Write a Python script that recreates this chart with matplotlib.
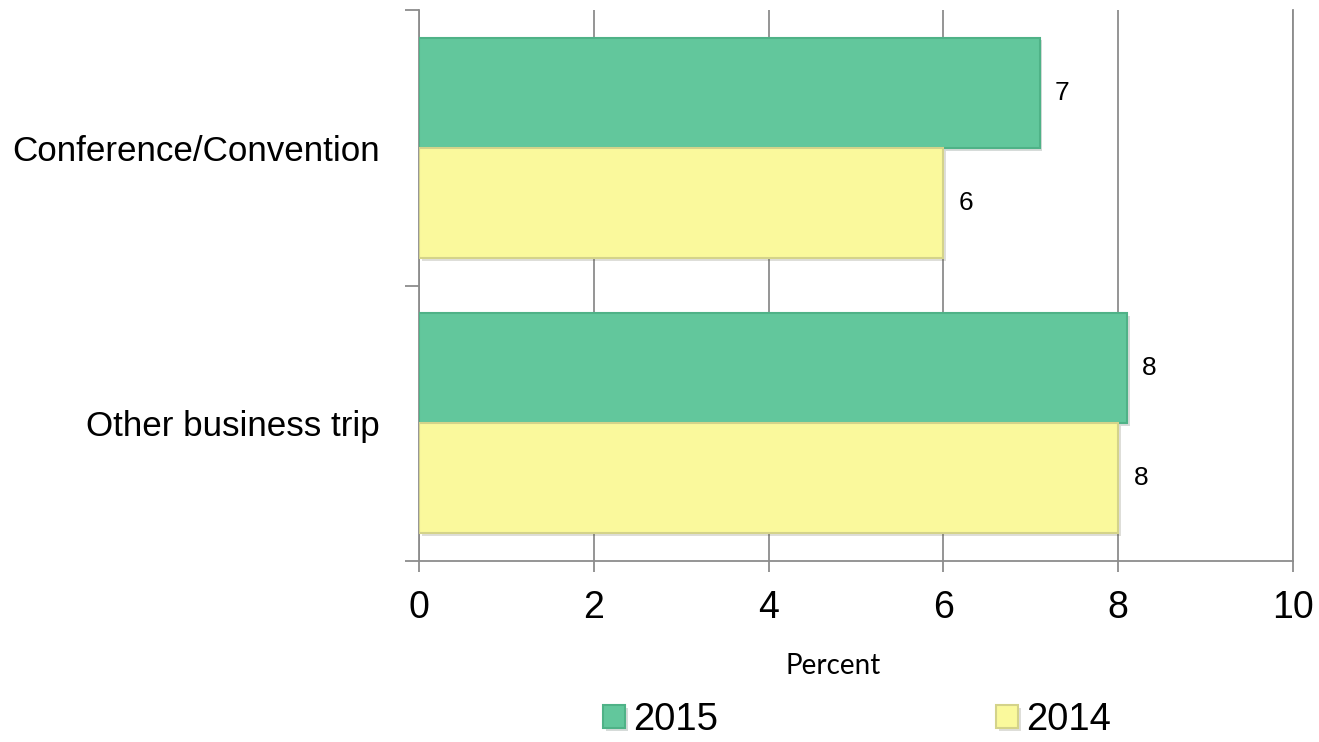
import matplotlib
matplotlib.use("Agg")
import matplotlib.pyplot as plt
import matplotlib.patheffects as pe
import numpy as np

categories = ["Conference/Convention", "Other business trip"]
values_2015 = [7.1, 8.1]
values_2014 = [6.0, 8.0]
series_names = ["2015", "2014"]
x_ticks = [0, 2, 4, 6, 8, 10]

plt.rcParams["font.family"] = ["Liberation Sans", "DejaVu Sans"]

green_fill, green_edge = "#62C79C", "#4FB287"
yellow_fill, yellow_edge = "#FAF99C", "#D4D38A"
axis_grey = "#8C8C8C"

fig = plt.figure(figsize=(13.19, 7.42), dpi=100)
ax = fig.add_axes([419 / 1319, 1 - 561 / 742, (1293 - 419) / 1319, (561 - 10) / 742])

# first category sits at the top
ypos = np.arange(len(categories))[::-1].astype(float)
bar_h = 0.4

shadow = [pe.SimplePatchShadow(offset=(2, -2), alpha=0.18), pe.Normal()]
b15 = ax.barh(ypos + bar_h / 2, values_2015, height=bar_h, color=green_fill,
              edgecolor=green_edge, linewidth=1.5, label=series_names[0], zorder=3)
b14 = ax.barh(ypos - bar_h / 2, values_2014, height=bar_h, color=yellow_fill,
              edgecolor=yellow_edge, linewidth=1.5, label=series_names[1], zorder=3)
for bars in (b15, b14):
    for p in bars:
        p.set_path_effects(shadow)

for bars, vals in ((b15, values_2015), (b14, values_2014)):
    for p, v in zip(bars, vals):
        ax.annotate(f"{v:.0f}", xy=(v, p.get_y() + p.get_height() / 2),
                    xytext=(11, 0), textcoords="offset points",
                    ha="left", va="center", fontsize=19, color="black")

ax.set_xlim(0, 10)
ax.set_ylim(-0.5, len(categories) - 0.5)
ax.set_xticks(x_ticks)
ax.set_xticklabels([str(t) for t in x_ticks])
ax.set_yticks(ypos)
ax.set_yticklabels(categories)
ax.set_yticks(np.arange(-0.5, len(categories), 1.0), minor=True)

ax.tick_params(axis="x", direction="out", length=8, width=1.3, color=axis_grey,
               labelsize=27, pad=13)
ax.tick_params(axis="y", which="major", length=0, labelsize=25.2, pad=28)
ax.tick_params(axis="y", which="minor", direction="out", length=10, width=1.3,
               color=axis_grey)

ax.grid(axis="x", color=axis_grey, linewidth=1.3, zorder=0)
ax.set_axisbelow(True)
ax.spines["top"].set_visible(False)
for s in ("left", "bottom", "right"):
    ax.spines[s].set_color(axis_grey)
    ax.spines[s].set_linewidth(1.3)

fig.text(833 / 1319, 1 - 666 / 742, "Percent", ha="center", va="center",
         fontsize=20, family=["Lato", "DejaVu Sans"])

fig.legend(handles=[b15, b14], labels=series_names, loc="center",
           bbox_to_anchor=(857 / 1319, 1 - 720 / 742), ncol=2, frameon=False,
           fontsize=27.5, handlelength=0.57, handleheight=0.57, handletextpad=0.2,
           columnspacing=7.3, borderpad=0.1)

fig.savefig("out.png", dpi=100)
